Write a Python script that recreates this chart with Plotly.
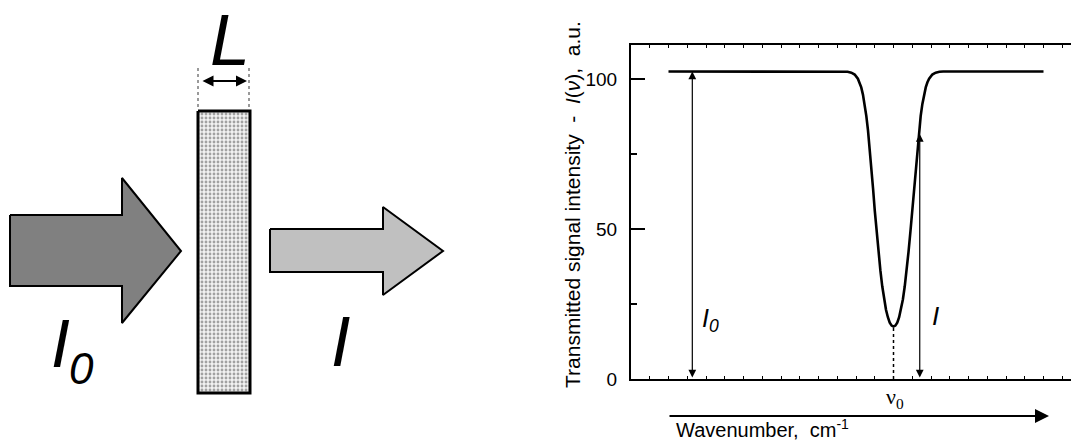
import plotly.graph_objects as go

# ---------------- data ----------------
wavenumber = [2, 11.35, 11.55, 11.75, 11.93, 12.1, 12.19, 12.28, 12.37, 12.46, 12.55,
              12.64, 12.73, 12.82, 12.91, 13.0, 13.1, 13.2, 13.3, 13.4, 13.5, 13.6,
              13.7, 13.8, 13.9, 14.0,
              14.1, 14.2, 14.3, 14.4, 14.5, 14.6, 14.7, 14.8, 14.9, 15.0, 15.09,
              15.18, 15.27, 15.36, 15.45, 15.54, 15.63, 15.72, 15.81, 15.9, 16.07,
              16.25, 16.45, 16.65, 22]
intensity = [102.5, 102.5, 102.4, 102.1, 101.5, 100.1, 98.9, 97.2, 94.8, 91.7, 87.7,
             82.9, 77.1, 70.6, 63.5, 56.2, 49.0, 42.3, 36.2, 30.9, 26.5, 23.1,
             20.6, 18.8, 17.8, 17.5,
             17.8, 18.8, 20.6, 23.1, 26.5, 30.9, 36.2, 42.3, 49.0, 56.2, 63.5,
             70.6, 77.1, 82.9, 87.7, 91.7, 94.8, 97.2, 98.9, 100.1, 101.5,
             102.1, 102.4, 102.5, 102.5]
y_tick_vals = [0, 50, 100]
y_tick_text = ["0", "50", "100"]
nu0 = 14.0
i_min = 17.5
i0_level = 102.5
i0_arrow_x = 3.27
i_arrow_x = 15.4
i_arrow_top = 81.7

FONT = "Arial, Liberation Sans, sans-serif"
W, H = 1071, 443

fig = go.Figure()

fig.add_trace(go.Scatter(x=wavenumber, y=intensity, mode="lines",
                         line=dict(color="black", width=2.6),
                         xaxis="x", yaxis="y", showlegend=False, hoverinfo="skip"))
fig.add_trace(go.Scatter(x=[nu0, nu0], y=[0, i_min], mode="lines",
                         line=dict(color="black", width=1.5, dash="dot"),
                         xaxis="x", yaxis="y", showlegend=False, hoverinfo="skip"))

def poly(xs, ys, fill, lw=2, **kw):
    fig.add_trace(go.Scatter(x=xs, y=ys, mode="lines", fill="toself", fillcolor=fill,
                             line=dict(color="black", width=lw), xaxis="x2", yaxis="y2",
                             showlegend=False, hoverinfo="skip", **kw))

poly([10, 122, 122, 181, 122, 122, 10, 10], [215, 215, 178, 251, 323, 286, 286, 215], "#808080")
poly([270, 383, 383, 443, 383, 383, 270, 270], [229, 229, 207, 251, 295, 272, 272, 229], "#c0c0c0")
poly([198, 250, 250, 198, 198], [111, 111, 393, 393, 111], "#ffffff", lw=3,
     fillpattern=dict(shape=".", fgcolor="#505050", bgcolor="#f2f2f2", size=4, solidity=0.4))
for xv in (198, 249):
    fig.add_trace(go.Scatter(x=[xv, xv], y=[68, 110], mode="lines",
                             line=dict(color="#9a9a9a", width=2, dash="dot"),
                             xaxis="x2", yaxis="y2", showlegend=False, hoverinfo="skip"))

annotations = []
annotations.append(dict(x=247, y=81, ax=201, ay=81, xref="x2", yref="y2", axref="x2", ayref="y2",
                        showarrow=True, arrowhead=2, startarrowhead=2, arrowside="end+start",
                        arrowsize=1.1, startarrowsize=1.1, arrowwidth=2, arrowcolor="black", text=""))
annotations.append(dict(x=230, y=40, xref="x2", yref="y2", text="<i>L</i>", showarrow=False,
                        font=dict(family=FONT, size=72, color="black")))
annotations.append(dict(x=60, y=343, xref="x2", yref="y2", text="<i>I</i>", showarrow=False,
                        font=dict(family=FONT, size=68, color="black")))
annotations.append(dict(x=81, y=368, xref="x2", yref="y2", text="<i>0</i>", showarrow=False,
                        font=dict(family=FONT, size=44, color="black")))
annotations.append(dict(x=340, y=342, xref="x2", yref="y2", text="<i>I</i>", showarrow=False,
                        font=dict(family=FONT, size=70, color="black")))

annotations.append(dict(x=i0_arrow_x, y=i0_level, ax=i0_arrow_x, ay=0, xref="x", yref="y",
                        axref="x", ayref="y", showarrow=True, arrowhead=2, startarrowhead=2,
                        arrowside="end+start", arrowsize=1.3, startarrowsize=1.3, arrowwidth=1.2,
                        arrowcolor="black", text=""))
annotations.append(dict(x=i_arrow_x, y=i_arrow_top, ax=i_arrow_x, ay=0, xref="x", yref="y",
                        axref="x", ayref="y", showarrow=True, arrowhead=2, startarrowhead=2,
                        arrowside="end+start", arrowsize=1.3, startarrowsize=1.3, arrowwidth=1.2,
                        arrowcolor="black", text=""))
annotations.append(dict(x=710, y=320, xref="x2", yref="y2", text="<i>I<sub>0</sub></i>",
                        showarrow=False, font=dict(family=FONT, size=25, color="black")))
annotations.append(dict(x=935, y=316, xref="x2", yref="y2", text="<i>I</i>",
                        showarrow=False, font=dict(family=FONT, size=26, color="black")))
annotations.append(dict(x=895, y=398, xref="x2", yref="y2", text="ν<sub>0</sub>",
                        showarrow=False, font=dict(family="Liberation Serif, Times New Roman, serif",
                                                   size=22, color="black")))
annotations.append(dict(x=1049, y=416, ax=668, ay=416, xref="x2", yref="y2", axref="x2", ayref="y2",
                        showarrow=True, arrowhead=2, arrowsize=1.4, arrowwidth=2,
                        arrowcolor="black", text=""))
annotations.append(dict(x=674, y=443, xref="x2", yref="y2", xanchor="left", yanchor="bottom",
                        text="Wavenumber,  cm<sup>-1</sup>", showarrow=False,
                        font=dict(family=FONT, size=20, color="black")))
annotations.append(dict(x=572, y=205, xref="x2", yref="y2", textangle=-90,
                        text="Transmitted signal intensity  -  <i>I</i>(<i>ν</i>),  a.u.",
                        showarrow=False, font=dict(family=FONT, size=21, color="black")))

x_left, y_top, y_bot = 631, 45, 379
fig.update_layout(
    width=W, height=H, margin=dict(l=0, r=0, t=0, b=0, autoexpand=False),
    paper_bgcolor="white", plot_bgcolor="rgba(0,0,0,0)",
    font=dict(family=FONT, color="black"),
    xaxis=dict(domain=[x_left / W, 1.0], range=[0, (W - x_left) / 18.75],
               showline=True, linecolor="black", linewidth=2, mirror="allticks",
               ticks="inside", dtick=1, tick0=0, ticklen=3, tickwidth=1.2, tickcolor="black",
               showticklabels=False, showgrid=False, zeroline=False, anchor="y",
               automargin=False),
    yaxis=dict(domain=[(H - y_bot) / H, (H - y_top) / H], range=[0, (y_bot - y_top) / 3.0],
               showline=True, linecolor="black", linewidth=2, mirror=False,
               ticks="inside", tickvals=y_tick_vals, ticktext=y_tick_text, ticklen=14,
               tickwidth=2, tickcolor="black", ticklabelstandoff=8,
               tickfont=dict(family=FONT, size=19, color="black"),
               minor=dict(tickvals=[25, 75], ticks="inside", ticklen=6, tickwidth=2,
                          tickcolor="black"),
               showgrid=False, zeroline=False, anchor="x", automargin=False),
    xaxis2=dict(domain=[0, 1], range=[0, W], visible=False, anchor="y2", fixedrange=True,
                automargin=False),
    yaxis2=dict(domain=[0, 1], range=[H, 0], visible=False, anchor="x2", fixedrange=True,
                automargin=False),
    annotations=annotations,
)

fig.write_html("out.html", config={"displayModeBar": False},
               post_script="document.body.style.margin='0';document.body.style.overflow='hidden';")
